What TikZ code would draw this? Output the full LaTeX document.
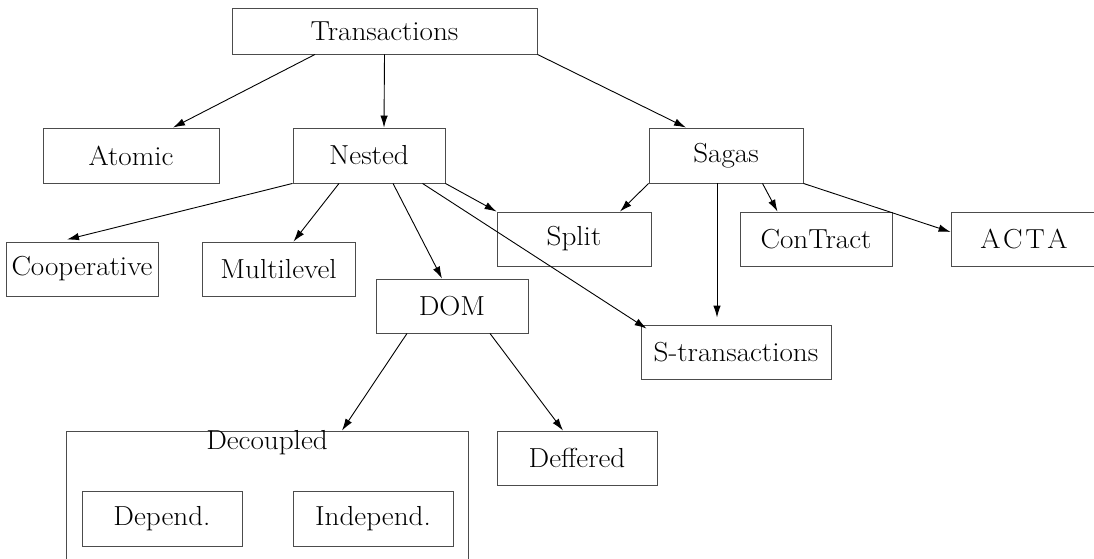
\documentclass[tikz,border=0pt]{standalone}
\renewcommand{\rmdefault}{cmdh}
\usetikzlibrary{arrows.meta}
\newcommand{\wide}[1]{\scalebox{1.06}[1]{#1}}

\begin{document}
\begin{tikzpicture}[x=1pt,y=-1pt,
	box/.style={draw=black!70,line width=0.9pt,inner sep=0pt,minimum width=152pt,minimum height=54pt,font=\fontsize{27.5}{32}\selectfont},
	arr/.style={-{Latex[length=12pt,width=7.5pt]},line width=0.9pt}]
	\useasboundingbox (0,0) rectangle (1094,559);
	% top level
	\node[box,minimum width=305pt,minimum height=46pt] (trans) at (384.5,31) {\wide{Transactions}};
	\node[box,minimum width=176pt,minimum height=55pt] (atomic) at (131,155.5) {\wide{Atomic}};
	\node[box,minimum height=55pt] (nested) at (369,155.5) {\wide{Nested}};
	\node[box,minimum width=154pt,minimum height=55pt] (sagas) at (726,155.5) {\wide{Sagas}};
	% second level
	\node[box,minimum width=154pt] (split) at (574,239) {\wide{Split}};
	\node[box] (contract) at (816,239) {\wide{ConTract}};
	\node[box,minimum width=146pt] (acta) at (1024,239) {\wide{A\kern2.5pt C\kern2.5pt T\kern2.5pt A}};
	\node[box] (coop) at (82,269) {\wide{Cooperative}};
	\node[box,minimum width=153pt] (multi) at (278.5,269) {\wide{Multilevel}};
	\node[box] (dom) at (452,306) {\wide{DOM}};
	\node[box,minimum width=190pt] (strans) at (736,352) {\wide{S-transactions}};
	% DOM children
	\node[box,minimum width=160pt] (deff) at (577,458) {\wide{Deffered}};
	\node[box,minimum width=402pt,minimum height=144pt] (decoupled) at (267,503) {};
	\node[anchor=base,inner sep=0pt,font=\fontsize{27.5}{32}\selectfont] (declabel) at ([yshift=-19pt]decoupled.north) {\wide{Decoupled}};
	\node[box,minimum width=160pt,minimum height=55pt] (depend) at (162,518.5) {\wide{Depend.}};
	\node[box,minimum width=160pt,minimum height=55pt] (indep) at (373,518.5) {\wide{Independ.}};

	\draw[arr] ([xshift=-69.5pt]trans.south) -- ([xshift=42pt]atomic.north);
	\draw[arr] (trans.south) -- ([xshift=15pt]nested.north);
	\draw[arr] (trans.south east) -- ([xshift=-40pt]sagas.north);

	\draw[arr] (nested.south west) -- ([xshift=-15pt,yshift=2pt]coop.north);
	\draw[arr] ([xshift=-30pt]nested.south) -- ([xshift=15pt]multi.north);
	\draw[arr] ([xshift=24pt]nested.south) -- ([xshift=-10pt]dom.north);
	\draw[arr] ([xshift=53.5pt]nested.south) -- ([xshift=6pt,yshift=-4pt]strans.north west);
	\draw[arr] (nested.south east) -- (split.north west);

	\draw[arr] (sagas.south west) -- ([xshift=46pt]split.north);
	\draw[arr,shorten >=7pt] ([xshift=-9pt]sagas.south) -- ([xshift=-19pt]strans.north);
	\draw[arr] ([xshift=36.5pt]sagas.south) -- ([xshift=-38.5pt]contract.north);
	\draw[arr] (sagas.south east) -- ([yshift=7pt]acta.west);

	\draw[arr] ([xshift=-45pt]dom.south) -- ([xshift=75pt]decoupled.north);
	\draw[arr] ([xshift=38pt]dom.south) -- ([xshift=-14pt]deff.north);
\end{tikzpicture}
\end{document}
